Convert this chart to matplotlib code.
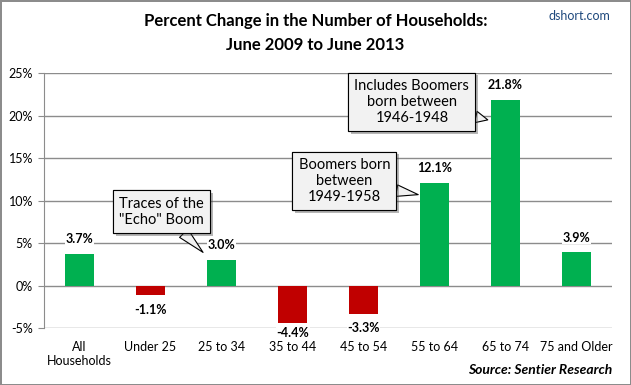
import matplotlib
matplotlib.use('Agg')
import matplotlib.pyplot as plt
import matplotlib.patheffects as pe

plt.rcParams['font.family'] = ['Lato', 'DejaVu Sans']

# 数据
categories = ['All\nHouseholds', 'Under 25', '25 to 34', '35 to 44', '45 to 54',
              '55 to 64', '65 to 74', '75 and Older']
changes = [3.7, -1.1, 3.0, -4.4, -3.3, 12.1, 21.8, 3.9]
y_ticks = [-5, 0, 5, 10, 15, 20, 25]

green = '#00B050'
red = '#C00000'
grid_c = '#8C8C8C'

fig = plt.figure(figsize=(6.31, 3.85), dpi=100, facecolor='white',
                 edgecolor='#8C8C8C', linewidth=2)
ax = fig.add_axes([0.0697, 0.148, 0.9003, 0.662])

colors = [green if v >= 0 else red for v in changes]
x = range(len(categories))
ax.bar(x, changes, width=0.4, color=colors, zorder=3)

ax.set_xlim(-0.5, len(categories) - 0.5)
ax.set_ylim(-5, 25)
ax.set_yticks(y_ticks)
ax.set_yticklabels([f'{t}%' for t in y_ticks], fontsize=9)
ax.set_xticks(list(x))
ax.set_xticklabels(categories, fontsize=9)
ax.tick_params(axis='x', length=0, pad=9.5)
ax.tick_params(axis='y', length=4, color=grid_c, pad=4)
ax.grid(axis='y', color=grid_c, linewidth=1, zorder=0)
for s in ['top', 'right', 'bottom']:
    ax.spines[s].set_visible(False)
ax.spines['left'].set_color(grid_c)

# 数据标签（负值标签不低于绘图区下沿太多）
for i, v in enumerate(changes):
    ly = v + 1.75 if v >= 0 else max(v - 1.75, -5.55)
    ax.text(i, ly, f'{v:.1f}%', ha='center', va='center', fontsize=9,
            fontweight='bold', zorder=5, clip_on=False,
            bbox=dict(boxstyle='square,pad=0.05', fc='white', ec='none'))

# 标注框
callouts = [
    ('Traces of the\n"Echo" Boom', (1.74, 3.9), (1.16, 8.7)),
    ('Boomers born\nbetween\n1949-1958', (4.77, 10.7), (3.73, 12.3)),
    ('Includes Boomers\nborn between\n1946-1948', (5.75, 19.5), (4.68, 21.6)),
]
for txt, tip, pos in callouts:
    a = ax.annotate(txt, tip, xytext=pos, textcoords='data', ha='center', va='center',
                    fontsize=10.5, zorder=6, linespacing=1.2,
                    bbox=dict(boxstyle='square,pad=0.42', fc='#F2F2F2', ec='black', lw=0.8),
                    arrowprops=dict(arrowstyle='wedge,tail_width=0.8', fc='#F2F2F2',
                                    ec='black', lw=0.8, shrinkA=0, shrinkB=0))
    a.get_bbox_patch().set_path_effects([pe.withSimplePatchShadow(offset=(2, -2), alpha=0.4), pe.Normal()])

fig.text(0.5, 0.945, 'Percent Change in the Number of Households:', ha='center', va='center',
         fontsize=12, fontweight='bold')
fig.text(0.5, 0.882, 'June 2009 to June 2013', ha='center', va='center',
         fontsize=12, fontweight='bold')
fig.text(0.967, 0.958, 'dshort.com', ha='right', va='center', fontsize=9,
         color='#1F497D')
fig.text(0.97, 0.04, 'Source: Sentier Research', ha='right', va='center', fontsize=10,
         fontweight='bold', fontstyle='italic')

fig.savefig('out.png', dpi=100)
